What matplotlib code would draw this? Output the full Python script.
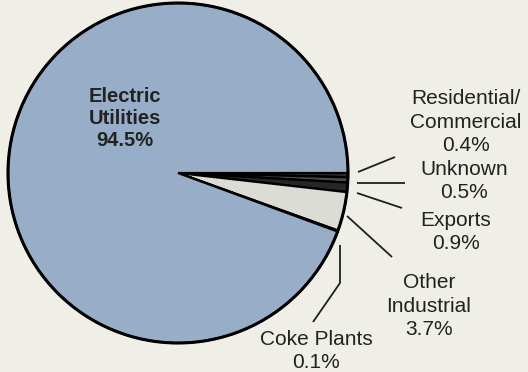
import matplotlib
matplotlib.use("Agg")
import matplotlib.pyplot as plt

# Coal consumption by sector (percent)
sectors = ["Residential/\nCommercial", "Unknown", "Exports", "Other\nIndustrial",
           "Coke Plants", "Electric\nUtilities"]
shares = [0.4, 0.5, 0.9, 3.7, 0.1, 94.5]
fills = ["#2e2e2e", "#4a4a4a", "#262626", "#dcdcd6", "#9a9a9a", "#98aec8"]

W, H = 528, 372
fig = plt.figure(figsize=(W / 100, H / 100), dpi=100, facecolor="#efeee7")
ax = fig.add_axes([0, 0, 1, 1])
ax.set_facecolor("#efeee7")

cx, cy, r = 178, H - 173, 170
ax.pie(shares, colors=fills, startangle=0, counterclock=False,
       center=(cx, cy), radius=r, normalize=True,
       wedgeprops=dict(edgecolor="black", linewidth=1.6))
# heavier outline around the whole pie
circ = plt.Circle((cx, cy), r, fill=False, edgecolor="black", linewidth=2.2)
ax.add_patch(circ)

ax.set_xlim(0, W)
ax.set_ylim(0, H)
ax.set_aspect("equal")
ax.axis("off")

font = ["Liberation Sans", "DejaVu Sans"]

def label(x, y, s, size=15, spacing=1.3, **kw):
    ax.text(x, H - y, s, ha="center", va="center", family=font,
            fontsize=size, color="#222222", linespacing=spacing, **kw)

def leader(pts):
    xs = [p[0] for p in pts]
    ys = [H - p[1] for p in pts]
    ax.plot(xs, ys, color="#1f1f1f", linewidth=1.3, solid_capstyle="butt")

label(125, 118, f"{sectors[5]}\n{shares[5]}%", size=14.5, spacing=1.2,
      fontweight="bold")
label(466, 122, f"{sectors[0]}\n{shares[0]}%")
label(464, 181, f"{sectors[1]}\n{shares[1]}%")
label(456, 232, f"{sectors[2]}\n{shares[2]}%")
label(429, 306, f"{sectors[3]}\n{shares[3]}%")
label(316, 351, f"{sectors[4]}\n{shares[4]}%")

leader([(358, 172), (395, 157)])
leader([(357, 183), (405, 183)])
leader([(357, 193), (402, 208)])
leader([(347, 216), (392, 257)])
leader([(340, 245), (340, 283), (313, 322)])

fig.savefig("out.png", dpi=100, facecolor=fig.get_facecolor())
